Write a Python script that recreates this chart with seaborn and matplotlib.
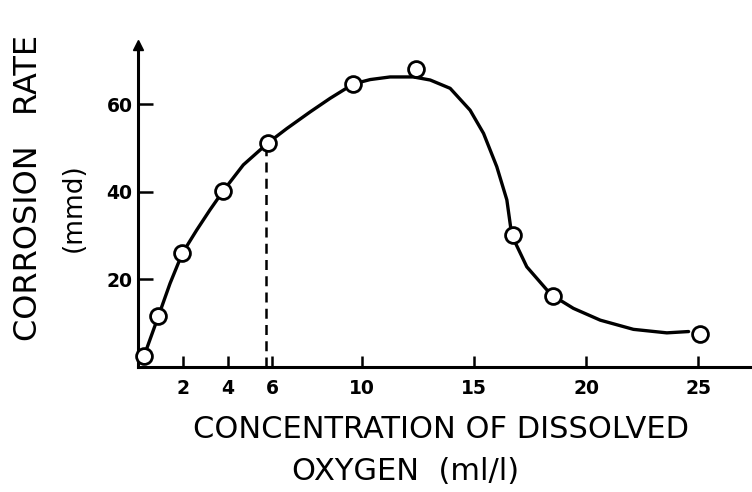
import numpy as np
import pandas as pd
import matplotlib
matplotlib.use("Agg")
import matplotlib.pyplot as plt
import seaborn as sns

# measured points (open circles)
oxygen = [0.27, 0.91, 1.98, 3.81, 5.82, 9.61, 12.4, 16.75, 18.54, 25.1]
corrosion = [2.4, 11.5, 25.9, 40.2, 51.2, 64.6, 68.0, 30.0, 16.1, 7.4]

# hand-drawn fitted curve
curve_x = [0.27, 0.91, 1.43, 1.98, 2.62, 3.21, 3.81, 4.70, 5.82, 6.64, 7.68,
           8.57, 9.61, 10.36, 11.25, 12.29, 13.04, 13.93, 14.82, 15.42, 16.01,
           16.46, 16.68, 17.35, 18.25, 18.54, 19.43, 20.63, 22.11, 23.6, 24.57]
curve_y = [2.4, 11.5, 19.0, 25.9, 31.2, 35.8, 40.2, 46.1, 51.2, 54.4, 58.2,
           61.3, 64.6, 65.6, 66.2, 66.2, 65.5, 63.6, 58.6, 53.3, 45.7,
           38.1, 30.0, 22.8, 17.5, 16.1, 13.3, 10.6, 8.5, 7.7, 8.0]

# dashed guide line
guide_x = [5.7, 5.7]
guide_y = [0, 50.2]

x_ticks = [2, 4, 6, 10, 15, 20, 25]
y_ticks = [20, 40, 60]

sns.set_style("white", rc={"text.color": "black", "axes.labelcolor": "black",
                           "xtick.color": "black", "ytick.color": "black"})
plt.rcParams['font.family'] = ['DejaVu Sans']

fig = plt.figure(figsize=(7.52, 4.92), dpi=100)
ax = fig.add_axes([0.1835, 0.255, 0.8165, 0.6535])

curve = pd.DataFrame({"x": curve_x, "y": curve_y})
pts = pd.DataFrame({"x": oxygen, "y": corrosion})

sns.lineplot(data=curve, x="x", y="y", sort=False, color="black", lw=2.4, ax=ax)
ax.plot(guide_x, guide_y, color="black", lw=1.8, ls=(0, (4, 2.5)))
sns.scatterplot(data=pts, x="x", y="y", s=130, facecolor="white",
                edgecolor="black", linewidth=2.0, zorder=5, clip_on=False, ax=ax)

ax.set_xlim(0, 27.4)
ax.set_ylim(0, 73.5)

for s in ["top", "right"]:
    ax.spines[s].set_visible(False)
for s in ["left", "bottom"]:
    ax.spines[s].set_linewidth(2.2)
    ax.spines[s].set_color("black")

# arrow head on y axis
ax.plot(0, 1, marker="^", color="black", ms=7, transform=ax.get_xaxis_transform(),
        clip_on=False)

ax.set_xticks(x_ticks)
ax.set_yticks(y_ticks)
ax.tick_params(axis="x", direction="in", length=8, width=1.8, pad=9,
               labelsize=13.5, bottom=True)
ax.tick_params(axis="y", direction="in", length=11, width=1.8, pad=4,
               labelsize=13.5, left=True)
for lab in ax.get_xticklabels() + ax.get_yticklabels():
    lab.set_fontweight("bold")

ax.set_xlabel("")
ax.set_ylabel("")

fig.text(441 / 752, 1 - 429 / 492, "CONCENTRATION OF DISSOLVED", ha="center",
         va="center", fontsize=22)
fig.text(406 / 752, 1 - 472 / 492, "OXYGEN  (ml/l)", ha="center",
         va="center", fontsize=22)
fig.text(29 / 752, 1 - 188 / 492, "CORROSION   RATE", ha="center",
         va="center", fontsize=23, rotation=90)
fig.text(74 / 752, 1 - 208 / 492, "(mmd)", ha="center",
         va="center", fontsize=19, rotation=90)

fig.savefig("out.png", dpi=100)
